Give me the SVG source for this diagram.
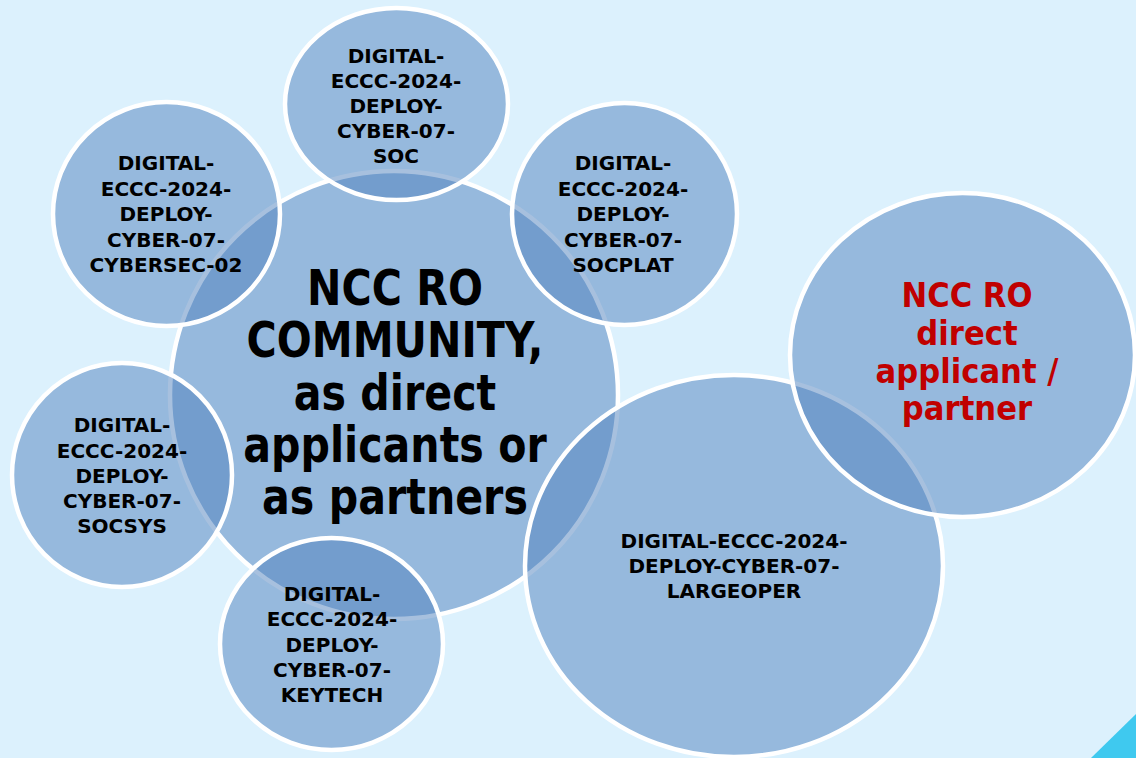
<svg xmlns="http://www.w3.org/2000/svg" width="1136" height="758" viewBox="0 0 1136 758">
<style>
.c{fill:#4f81bd;fill-opacity:0.5;stroke:#ffffff;stroke-width:4.5}
.s{font-family:"DejaVu Sans",sans-serif;font-weight:bold;font-size:20px;text-anchor:middle;fill:#000000}
.b{font-family:"DejaVu Sans",sans-serif;font-weight:bold;font-size:49px;text-anchor:middle;fill:#000000}
.r{font-family:"DejaVu Sans",sans-serif;font-weight:bold;font-size:33px;text-anchor:middle;fill:#c00000}
</style>
<rect x="0" y="0" width="1136" height="758" fill="#dcf1fd"/>
<polygon points="1091,758 1136,714 1136,758" fill="#3fc9ef"/>
<g id="connectors"></g>
<g id="center">
<ellipse class="c" cx="394" cy="395" rx="224" ry="224"/>
<g transform="translate(395,0) scale(0.84,1)">
<text class="b" x="0" y="305">NCC RO</text>
<text class="b" x="0" y="357">COMMUNITY,</text>
<text class="b" x="0" y="410">as direct</text>
<text class="b" x="0" y="462">applicants or</text>
<text class="b" x="0" y="514">as partners</text>
</g>
</g>
<g id="soc">
<ellipse class="c" cx="396.5" cy="104" rx="111.5" ry="96"/>
<text class="s" x="396" y="63">DIGITAL-</text>
<text class="s" x="396" y="88">ECCC-2024-</text>
<text class="s" x="396" y="113">DEPLOY-</text>
<text class="s" x="396" y="138">CYBER-07-</text>
<text class="s" x="396" y="163">SOC</text>
</g>
<g id="cybersec02">
<ellipse class="c" cx="166.5" cy="214" rx="113.5" ry="112"/>
<text class="s" x="166" y="170">DIGITAL-</text>
<text class="s" x="166" y="195.5">ECCC-2024-</text>
<text class="s" x="166" y="221">DEPLOY-</text>
<text class="s" x="166" y="246.5">CYBER-07-</text>
<text class="s" x="166" y="272">CYBERSEC-02</text>
</g>
<g id="socplat">
<ellipse class="c" cx="624.5" cy="214" rx="112.5" ry="111"/>
<text class="s" x="623" y="170">DIGITAL-</text>
<text class="s" x="623" y="195.5">ECCC-2024-</text>
<text class="s" x="623" y="221">DEPLOY-</text>
<text class="s" x="623" y="246.5">CYBER-07-</text>
<text class="s" x="623" y="272">SOCPLAT</text>
</g>
<g id="socsys">
<ellipse class="c" cx="122" cy="475" rx="110" ry="112"/>
<text class="s" x="122" y="432">DIGITAL-</text>
<text class="s" x="122" y="457.5">ECCC-2024-</text>
<text class="s" x="122" y="483">DEPLOY-</text>
<text class="s" x="122" y="508">CYBER-07-</text>
<text class="s" x="122" y="533">SOCSYS</text>
</g>
<g id="keytech">
<ellipse class="c" cx="331.5" cy="644" rx="111.5" ry="106"/>
<text class="s" x="332" y="601">DIGITAL-</text>
<text class="s" x="332" y="626">ECCC-2024-</text>
<text class="s" x="332" y="651.5">DEPLOY-</text>
<text class="s" x="332" y="677">CYBER-07-</text>
<text class="s" x="332" y="702">KEYTECH</text>
</g>
<g id="largeoper">
<ellipse class="c" cx="734" cy="566" rx="209" ry="191"/>
<text class="s" x="734" y="548">DIGITAL-ECCC-2024-</text>
<text class="s" x="734" y="573">DEPLOY-CYBER-07-</text>
<text class="s" x="734" y="598">LARGEOPER</text>
</g>
<g id="ncc-direct">
<ellipse class="c" cx="962.5" cy="355" rx="172.5" ry="162"/>
<g transform="translate(967,0) scale(0.93,1)">
<text class="r" x="0" y="307">NCC RO</text>
<text class="r" x="0" y="345">direct</text>
<text class="r" x="0" y="383">applicant /</text>
<text class="r" x="0" y="420">partner</text>
</g>
</g>
</svg>
